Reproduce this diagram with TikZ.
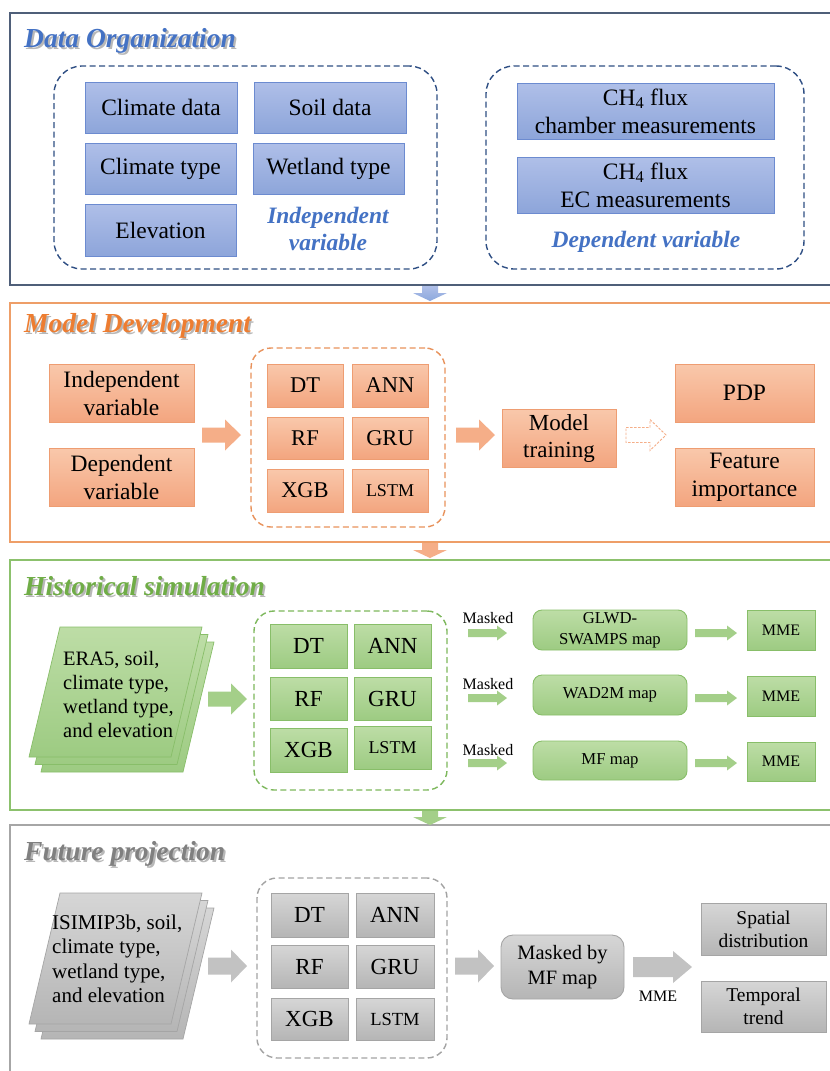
\documentclass[tikz,border=0pt]{standalone}
\usepackage{fontspec}
\setmainfont{Liberation Serif}
\usetikzlibrary{calc}
\definecolor{frBlue}{HTML}{4F5F79}
\definecolor{frOr}{HTML}{EE9E68}
\definecolor{frGr}{HTML}{8CC16D}
\definecolor{frGy}{HTML}{A6A6A6}
\definecolor{dsBlue}{HTML}{2F4F84}
\definecolor{dsOr}{HTML}{E8925C}
\definecolor{dsGr}{HTML}{7DB85C}
\definecolor{dsGy}{HTML}{A3A3A3}
\definecolor{tBlue}{HTML}{4472C4}
\definecolor{tOr}{HTML}{ED7D31}
\definecolor{tGr}{HTML}{70AD47}
\definecolor{tGy}{HTML}{808080}
\definecolor{shd}{HTML}{B8B8B8}
\definecolor{bTop}{HTML}{AFBFE8}
\definecolor{bBot}{HTML}{8DA5DA}
\definecolor{bBd}{HTML}{6C8BD0}
\definecolor{oTop}{HTML}{F9C8AB}
\definecolor{oBot}{HTML}{F3A57F}
\definecolor{oBd}{HTML}{EE9D72}
\definecolor{gTop}{HTML}{BDDDA6}
\definecolor{gBot}{HTML}{9DCB82}
\definecolor{gBd}{HTML}{88BE69}
\definecolor{yTop}{HTML}{D6D6D6}
\definecolor{yBot}{HTML}{B5B5B5}
\definecolor{yBd}{HTML}{A5A5A5}
\definecolor{arBlue}{HTML}{8CA8DD}
\definecolor{arOr}{HTML}{F5AE88}
\definecolor{arGr}{HTML}{A4CF89}
\definecolor{arGy}{HTML}{C2C2C2}
\newcommand\fs[2]{\fontsize{#1}{#2}\selectfont}
% box from corner (x1,y1) to (x2,y2); text follows
\newcommand\mkbox[6]{\node[#1,minimum width={(#5)-(#3)},minimum height={(#6)-(#4)}] (#2) at ({((#3)+(#5))/2},{((#4)+(#6))/2})}
% horizontal block arrow between named coordinates
\newcommand\harrow[5]{\path[#1] let \p1=(#2), \p2=(#3) in
  (\x1,\y1+#4pt) -- (\x2-#5pt,\y1+#4pt) -- (\x2-#5pt,\y1+#4pt*0+#4pt*0+\arrowhh pt) -- (\x2,\y1) -- (\x2-#5pt,\y1-\arrowhh pt) -- (\x2-#5pt,\y1-#4pt) -- (\x1,\y1-#4pt) -- cycle;}
\newcommand\arrowhh{15.5}
\newcommand\varrow[5]{\path[#1] let \p1=(#2), \p2=(#3) in
  (\x1-#4pt,\y1) -- (\x1-#4pt,\y2+#5pt) -- (\x1-\arrowhh pt,\y2+#5pt) -- (\x1,\y2) -- (\x1+\arrowhh pt,\y2+#5pt) -- (\x1+#4pt,\y2+#5pt) -- (\x1+#4pt,\y1) -- cycle;}
\tikzset{
  base/.style={inner sep=0pt, align=center, text=black},
  bluebox/.style={base, draw=bBd, line width=0.9pt, top color=bTop, bottom color=bBot, font=\fs{23.5}{28}},
  orbox/.style={base, draw=oBd, line width=0.9pt, top color=oTop, bottom color=oBot, font=\fs{23.5}{28}},
  grbox/.style={base, draw=gBd, line width=0.9pt, top color=gTop, bottom color=gBot, font=\fs{23}{27}},
  gybox/.style={base, draw=yBd, line width=0.9pt, top color=yTop, bottom color=yBot, font=\fs{23}{27}},
  dbox/.style={draw=#1, line width=1.4pt, dash pattern=on 6pt off 3.5pt, rounded corners=20pt, inner sep=0pt},
  frame/.style={draw=#1, line width=1.6pt},
  ttl/.style={anchor=base west, inner sep=0pt, font=\fs{27.5}{30}\bfseries\itshape, text=#1},
  lbl/.style={inner sep=0pt, align=center, font=\fs{23.5}{27}\bfseries\itshape, text=tBlue},
  small/.style={inner sep=0pt, anchor=base, font=\fs{16}{19}, text=black},
  sheetg/.style={draw=gBd, line width=0.7pt, top color=gTop, bottom color=gBot},
  sheety/.style={draw=yBd, line width=0.7pt, top color=yTop, bottom color=yBot},
}
\begin{document}
\begin{tikzpicture}[x=1pt,y=-1pt]
\useasboundingbox (0,0) rectangle (830,1071);
\fill[white] (0,0) rectangle (830,1071);
\clip (0,0) rectangle (830,1071);

% ---------------- frames ----------------
\draw[frame=frBlue] (10,13) rectangle (850,285);
\draw[frame=frOr] (10,303) rectangle (850,542);
\draw[frame=frGr] (10,560) rectangle (850,810);
\draw[frame=frGy] (10,825) rectangle (850,1090);

% down arrows between frames
\renewcommand\arrowhh{17}
\coordinate (d1s) at (430,286); \coordinate (d1e) at (430,301);
\varrow{top color=bTop,bottom color=arBlue}{d1s}{d1e}{8}{8}
\coordinate (d2s) at (430,543); \coordinate (d2e) at (430,558);
\varrow{fill=arOr}{d2s}{d2e}{8}{8}
\coordinate (d3s) at (430,811); \coordinate (d3e) at (430,825);
\varrow{fill=arGr}{d3s}{d3e}{8}{8}

% ---------------- Data Organization ----------------
\node[ttl=shd] (t1s) at (26,49) {Data Organization};
\node[ttl=tBlue] (t1) at (24,47) {Data Organization};
\mkbox{dbox=dsBlue,rounded corners=28pt}{indep}{54}{66}{437}{269}{};
\mkbox{dbox=dsBlue,rounded corners=28pt}{dep}{486}{66}{804}{269}{};
\mkbox{bluebox}{cd}{85}{82}{237}{133}{Climate data};
\mkbox{bluebox}{sd}{254}{82}{406}{133}{Soil data};
\mkbox{bluebox}{ct}{85}{143}{236}{194}{Climate type};
\mkbox{bluebox}{wt}{253}{143}{404}{194}{Wetland type};
\mkbox{bluebox}{el}{85}{204}{236}{256}{Elevation};
\node[lbl] (ivl) at (328,229) {Independent\\variable};
\mkbox{bluebox}{ch}{517}{83}{774}{139}{CH\textsubscript{4} flux\\chamber measurements};
\mkbox{bluebox}{ec}{517}{157}{774}{213}{CH\textsubscript{4} flux\\EC measurements};
\node[lbl] (dvl) at (646,242) {Dependent variable};

% ---------------- Model Development ----------------
\node[ttl=shd] (t2s) at (26,334) {Model Development};
\node[ttl=tOr] (t2) at (24,332) {Model Development};
\mkbox{orbox}{iv}{49}{364}{194}{422}{Independent\\variable};
\mkbox{orbox}{dv}{49}{448}{194}{506}{Dependent\\variable};
\mkbox{dbox=dsOr}{mdash}{251}{348}{445}{527}{};
\mkbox{orbox,font=\fs{22.5}{26}}{mdt}{267}{364}{343}{407}{DT};
\mkbox{orbox,font=\fs{22.5}{26}}{mann}{352}{364}{428}{407}{ANN};
\mkbox{orbox,font=\fs{22.5}{26}}{mrf}{267}{417}{343}{459}{RF};
\mkbox{orbox,font=\fs{22.5}{26}}{mgru}{352}{417}{428}{459}{GRU};
\mkbox{orbox,font=\fs{22.5}{26}}{mxgb}{267}{469}{343}{512}{XGB};
\mkbox{orbox,font=\fs{18}{22}}{mlstm}{352}{469}{428}{512}{LSTM};
\mkbox{orbox,font=\fs{23}{27}}{mt}{502}{409}{616}{467}{Model\\training};
\mkbox{orbox}{pdp}{675}{364}{814}{422}{PDP};
\mkbox{orbox}{fi}{675}{448}{814}{506}{Feature\\importance};
\renewcommand\arrowhh{15.5}
\coordinate (m1s) at (202,435); \coordinate (m1e) at (241,435);
\harrow{fill=arOr}{m1s}{m1e}{7.5}{16}
\coordinate (m2s) at (456,435); \coordinate (m2e) at (495,435);
\harrow{fill=arOr}{m2s}{m2e}{7.5}{16}
\coordinate (m3s) at (626,435); \coordinate (m3e) at (666,435);
\harrow{draw=arOr,line width=0.9pt,dash pattern=on 2.5pt off 1.5pt}{m3s}{m3e}{7.5}{16}

% ---------------- Historical simulation ----------------
\node[ttl=shd] (t3s) at (26,597) {Historical simulation};
\node[ttl=tGr] (t3) at (24,595) {Historical simulation};
\begin{scope}[shift={(12,15)}]
\path[sheetg] (60,627) -- (202,627) -- (171,757) -- (29,757) -- cycle;
\end{scope}
\begin{scope}[shift={(6,7.5)}]
\path[sheetg] (60,627) -- (202,627) -- (171,757) -- (29,757) -- cycle;
\end{scope}
\path[sheetg] (60,627) -- (202,627) -- (171,757) -- (29,757) -- cycle;
\node[inner sep=0pt, anchor=west, align=left, font=\fs{20.5}{24}] (era) at (63,694) {ERA5, soil,\\climate type,\\wetland type,\\and elevation};
\mkbox{dbox=dsGr}{hdash}{254}{611}{447}{790}{};
\mkbox{grbox}{hdt}{270}{624}{347}{668}{DT};
\mkbox{grbox}{hann}{354}{624}{431}{668}{ANN};
\mkbox{grbox}{hrf}{270}{677}{347}{720}{RF};
\mkbox{grbox}{hgru}{354}{677}{431}{720}{GRU};
\mkbox{grbox}{hxgb}{270}{728}{347}{772}{XGB};
\mkbox{grbox,font=\fs{18}{22}}{hlstm}{354}{726}{431}{769}{LSTM};
\coordinate (h0s) at (208,699); \coordinate (h0e) at (247,699);
\harrow{fill=arGr}{h0s}{h0e}{7.5}{16}
\node[small] (mk1) at (488,623) {Masked};
\node[small] (mk2) at (488,689) {Masked};
\node[small] (mk3) at (488,755) {Masked};
\mkbox{grbox,rounded corners=9pt,font=\fs{16.7}{21}}{glwd}{533}{610}{687}{650}{GLWD-\\SWAMPS map};
\mkbox{grbox,rounded corners=9pt,font=\fs{16.7}{21}}{wad}{533}{675}{687}{715}{WAD2M map};
\mkbox{grbox,rounded corners=9pt,font=\fs{16.7}{21}}{mfm}{533}{741}{687}{780}{MF map};
\mkbox{grbox,font=\fs{16}{20}}{mme1}{747}{610}{815}{650}{MME};
\mkbox{grbox,font=\fs{16}{20}}{mme2}{747}{676}{815}{716}{MME};
\mkbox{grbox,font=\fs{16}{20}}{mme3}{747}{742}{815}{781}{MME};
\renewcommand\arrowhh{7.5}
\coordinate (s1s) at (468,633); \coordinate (s1e) at (507,633);
\harrow{fill=arGr}{s1s}{s1e}{4}{10}
\coordinate (s2s) at (468,698); \coordinate (s2e) at (507,698);
\harrow{fill=arGr}{s2s}{s2e}{4}{10}
\coordinate (s3s) at (468,763); \coordinate (s3e) at (507,763);
\harrow{fill=arGr}{s3s}{s3e}{4}{10}
\coordinate (r1s) at (695,633); \coordinate (r1e) at (737,633);
\harrow{fill=arGr}{r1s}{r1e}{4}{10}
\coordinate (r2s) at (695,698); \coordinate (r2e) at (737,698);
\harrow{fill=arGr}{r2s}{r2e}{4}{10}
\coordinate (r3s) at (695,763); \coordinate (r3e) at (737,763);
\harrow{fill=arGr}{r3s}{r3e}{4}{10}

% ---------------- Future projection ----------------
\node[ttl=shd] (t4s) at (26,862) {Future projection};
\node[ttl=tGy] (t4) at (24,860) {Future projection};
\begin{scope}[shift={(12,15)}]
\path[sheety] (60,893) -- (202,893) -- (171,1024) -- (29,1024) -- cycle;
\end{scope}
\begin{scope}[shift={(6,7.5)}]
\path[sheety] (60,893) -- (202,893) -- (171,1024) -- (29,1024) -- cycle;
\end{scope}
\path[sheety] (60,893) -- (202,893) -- (171,1024) -- (29,1024) -- cycle;
\node[inner sep=0pt, anchor=west, align=left, font=\fs{21}{24.5}] (isi) at (52,959) {ISIMIP3b, soil,\\climate type,\\wetland type,\\and elevation};
\mkbox{dbox=dsGy}{fdash}{257}{878}{447}{1058}{};
\mkbox{gybox}{fdt}{271}{893}{348}{937}{DT};
\mkbox{gybox}{fann}{356}{893}{434}{937}{ANN};
\mkbox{gybox}{frf}{271}{945}{348}{988}{RF};
\mkbox{gybox}{fgru}{356}{945}{434}{988}{GRU};
\mkbox{gybox}{fxgb}{271}{998}{348}{1040}{XGB};
\mkbox{gybox,font=\fs{18.5}{22}}{flstm}{356}{998}{434}{1040}{LSTM};
\mkbox{gybox,rounded corners=12pt,font=\fs{20.4}{25}}{mbm}{501}{935}{624}{999}{Masked by\\MF map};
\mkbox{gybox,font=\fs{19.5}{23}}{spd}{701}{903}{826}{955}{Spatial\\distribution};
\mkbox{gybox,font=\fs{19.5}{23}}{tmt}{701}{981}{826}{1032}{Temporal\\trend};
\renewcommand\arrowhh{16.5}
\coordinate (f0s) at (208,966); \coordinate (f0e) at (247,966);
\harrow{fill=arGy}{f0s}{f0e}{8.5}{16}
\coordinate (f1s) at (455,966); \coordinate (f1e) at (494,966);
\harrow{fill=arGy}{f1s}{f1e}{8.5}{16}
\renewcommand\arrowhh{16}
\coordinate (f2s) at (633,967); \coordinate (f2e) at (692,967);
\harrow{fill=arGy}{f2s}{f2e}{10}{19}
\node[small] (mmel) at (658,1001) {MME};
\end{tikzpicture}
\end{document}
